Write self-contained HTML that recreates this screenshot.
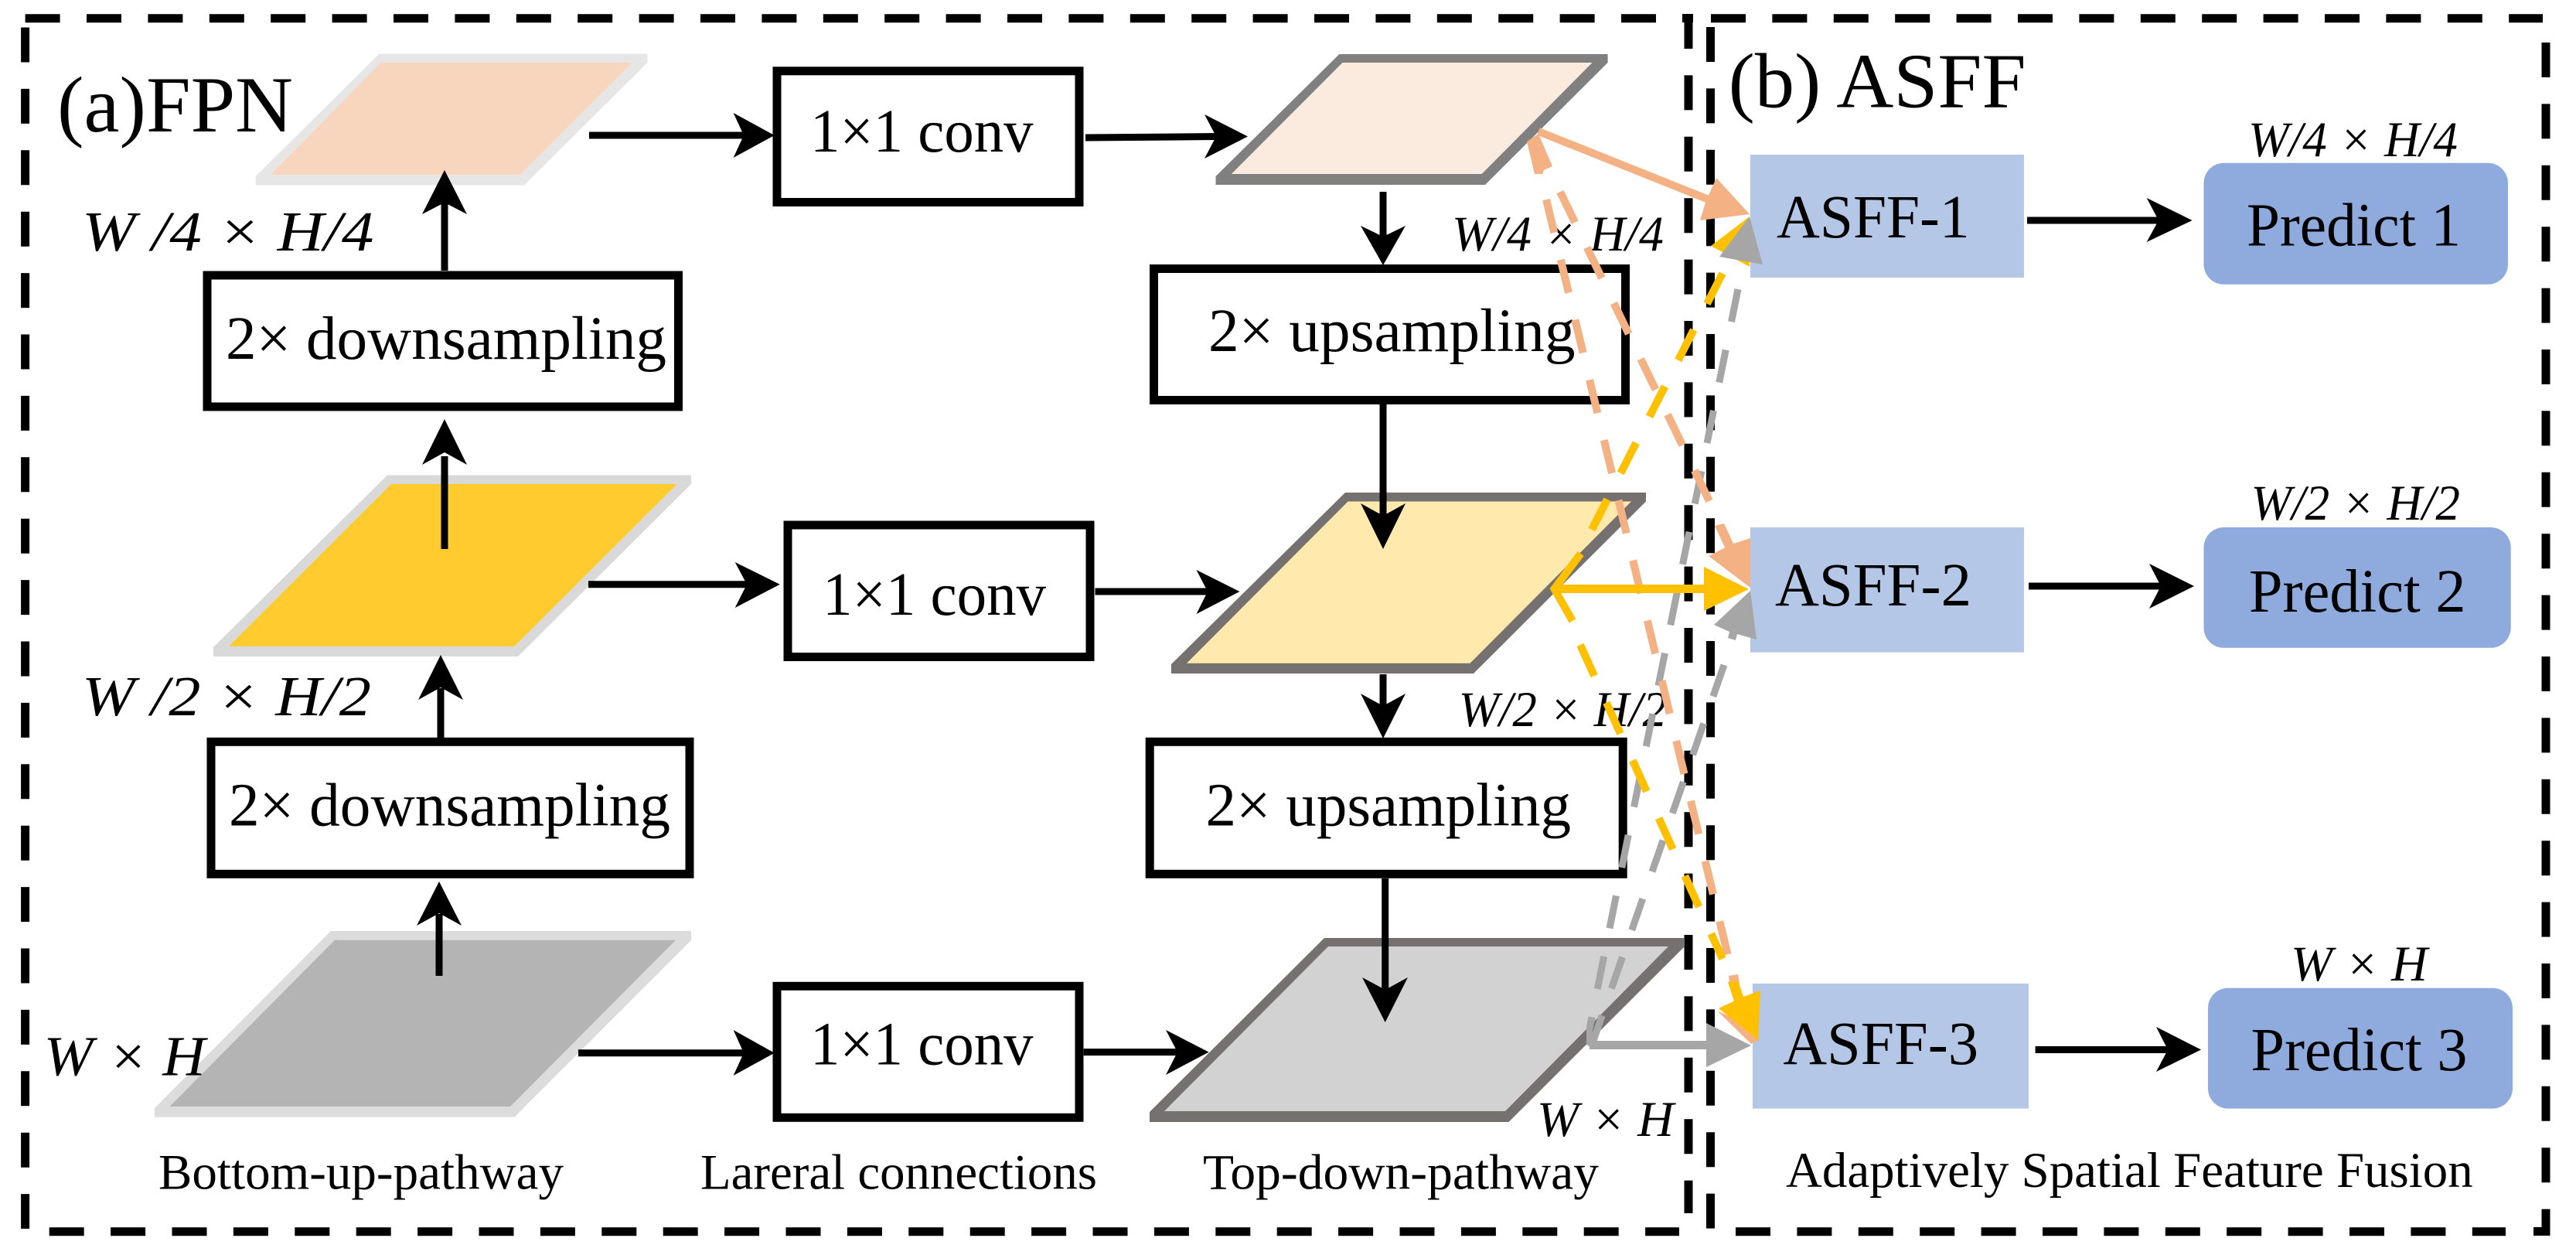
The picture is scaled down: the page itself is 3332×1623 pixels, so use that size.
<!DOCTYPE html>
<html><head><meta charset="utf-8"><style>
html,body{margin:0;padding:0;background:#fff}
svg{display:block}
text{font-family:"Liberation Serif",serif;fill:#000}
.i{font-style:italic}
</style></head><body>
<svg xmlns="http://www.w3.org/2000/svg" width="3332" height="1623" viewBox="0 0 3332 1623">
<rect width="3332" height="1623" fill="#fff"/>
<!-- dashed frames -->
<g stroke="#000" stroke-width="11" fill="none" stroke-dasharray="45 34.4">
<path d="M32.6 23.7H2142"/>
<path d="M32.6 35.5V1589"/>
<path d="M63.7 1592.7H2172"/>
<path d="M2184 18V1569"/>
<path d="M2213 23.7H3289"/>
<path d="M2212.5 35V1590"/>
<path d="M2245 1592.7H3241"/>
<path d="M3293 55V1598"/>
</g>
<rect x="2176" y="18" width="14" height="11"/>
<rect x="3277" y="1587" width="21" height="11"/>
<!-- left parallelograms -->
<polygon points="490.6,69.6 837.5,69.6 837.5,81 678,239.5 330.6,239.5 330.6,228" fill="#e6e6e6"/>
<polygon points="493,81 817.6,81 672.5,226 350,226" fill="#f8d5bd"/>
<polygon points="501,614.5 894,614.5 894,626 670,849 276,849 276,837" fill="#d9d9d9"/>
<polygon points="506,626 875.7,626 665.4,835.7 296,835.7" fill="#ffcb2f"/>
<polygon points="428,1204 894,1204 894,1216 665.4,1444.6 200,1444.6 200,1433" fill="#dcdcdc"/>
<polygon points="433,1215.7 874,1215.7 660,1431 219.5,1431" fill="#b4b4b4"/>
<!-- right parallelograms -->
<polygon points="1732.4,70 2079.6,70 2079.6,81 1921,239 1572.5,239 1572.5,228" fill="#808080"/>
<polygon points="1736.5,81 2059.6,81 1916.6,225 1592.8,225" fill="#fbeade"/>
<polygon points="1740,637 2129,637 2129,648.5 1906,871 1515,871 1515,859" fill="#767171"/>
<polygon points="1743.6,648.5 2110,648.5 1901.5,857.7 1535,857.7" fill="#ffe9ac"/>
<polygon points="1713,1213 2179,1213 2179,1224 1951.5,1451 1487,1451 1487,1438" fill="#767171"/>
<polygon points="1718,1224 2158,1224 1947,1437 1506,1437" fill="#d2d2d2"/>
<!-- boxes -->
<g fill="#fff" stroke="#000" stroke-width="11">
<rect x="268" y="356" width="609.5" height="170"/>
<rect x="273" y="959.3" width="619" height="171"/>
<rect x="1005" y="91.8" width="391" height="169.7"/>
<rect x="1019" y="679" width="391" height="170.5"/>
<rect x="1005" y="1275.3" width="391" height="170"/>
<rect x="1492.5" y="347.5" width="610" height="170"/>
<rect x="1487.2" y="959.3" width="612" height="171"/>
</g>
<g fill="#b4c7e7">
<rect x="2264" y="200" width="354" height="159"/>
<rect x="2264" y="682" width="354" height="161.6"/>
<rect x="2267" y="1272" width="357" height="161.6"/>
</g>
<g fill="#8faadc">
<rect x="2850.5" y="210.8" width="393.5" height="157" rx="26"/>
<rect x="2850.5" y="682" width="397.2" height="155.8" rx="26"/>
<rect x="2856" y="1277.7" width="394" height="155.9" rx="26"/>
</g>
<!-- black arrows -->
<g stroke="#000" fill="none" stroke-width="9">
<path d="M575 350V255M575 710V590M570 955V890M568 1262V1182M1789 248V310M1789 523V672M1789 872V918M1791.7 1136V1285"/>
<path d="M762 175H965M1404 178L1575 176.5M761 755.7H970M1416.5 765H1565M748 1361.7H965M1401.7 1360.6H1525M2622 285H2798M2624 758H2800M2632.6 1357.5H2810"/>
</g>
<g fill="#000">
<polygon points="575,220 604,277 575,262 546,277"/>
<polygon points="575,542 604,601 575,585 546,601"/>
<polygon points="570,847 599,905 570,889 541,905"/>
<polygon points="568,1140 597,1197 568,1181 539,1197"/>
<polygon points="1789,343 1818,292 1789,306 1760,292"/>
<polygon points="1789,710 1818,651 1789,667 1760,651"/>
<polygon points="1789,955 1818,897 1789,913 1760,897"/>
<polygon points="1791.7,1322 1821,1264 1791.7,1280 1762,1264"/>
<polygon points="1001.7,175 948.6,146 962,175 948.6,204"/>
<polygon points="1614,176.5 1558,148 1573,176.5 1558,205"/>
<polygon points="1008.8,755.7 950.7,727 966,755.7 950.7,786"/>
<polygon points="1603.4,765 1547.5,737 1562,765 1547.5,794"/>
<polygon points="1001.7,1361.7 948.6,1332 962,1361.7 948.6,1391"/>
<polygon points="1563.6,1360.6 1508,1332 1523,1360.6 1508,1390"/>
<polygon points="2835.6,285 2776.7,256 2792,285 2776.7,313"/>
<polygon points="2838,758 2780,729 2795,758 2780,787"/>
<polygon points="2847,1357.5 2789,1328 2804,1357.5 2789,1386"/>
</g>
<!-- labels -->
<text x="74" y="170" font-size="103" textLength="305" lengthAdjust="spacingAndGlyphs">(a)FPN</text>
<text x="2235.6" y="138.6" font-size="101" textLength="385" lengthAdjust="spacingAndGlyphs">(b) ASFF</text>
<g font-size="79">
<text x="292" y="464" textLength="570" lengthAdjust="spacingAndGlyphs">2× downsampling</text>
<text x="296" y="1067.7" textLength="571" lengthAdjust="spacingAndGlyphs">2× downsampling</text>
<text x="1563" y="454" textLength="474.5" lengthAdjust="spacingAndGlyphs">2× upsampling</text>
<text x="1559.5" y="1067.7" textLength="472.5" lengthAdjust="spacingAndGlyphs">2× upsampling</text>
<text x="1048" y="196" textLength="288.5" lengthAdjust="spacingAndGlyphs">1×1 conv</text>
<text x="1064" y="795" textLength="289" lengthAdjust="spacingAndGlyphs">1×1 conv</text>
<text x="1048" y="1376.4" textLength="288.5" lengthAdjust="spacingAndGlyphs">1×1 conv</text>
<text x="2298" y="307" textLength="249.6" lengthAdjust="spacingAndGlyphs">ASFF-1</text>
<text x="2296" y="783" textLength="254" lengthAdjust="spacingAndGlyphs">ASFF-2</text>
<text x="2306.5" y="1376" textLength="252.5" lengthAdjust="spacingAndGlyphs">ASFF-3</text>
<text x="2906" y="317.5" textLength="277" lengthAdjust="spacingAndGlyphs">Predict 1</text>
<text x="2909" y="791" textLength="280.5" lengthAdjust="spacingAndGlyphs">Predict 2</text>
<text x="2911.5" y="1384" textLength="280" lengthAdjust="spacingAndGlyphs">Predict 3</text>
</g>
<g font-size="65">
<text x="205" y="1537.5" textLength="524" lengthAdjust="spacingAndGlyphs">Bottom-up-pathway</text>
<text x="906" y="1537.5" textLength="513" lengthAdjust="spacingAndGlyphs">Lareral connections</text>
<text x="1556" y="1537.5" textLength="512" lengthAdjust="spacingAndGlyphs">Top-down-pathway</text>
<text x="2310" y="1535" textLength="888.7" lengthAdjust="spacingAndGlyphs">Adaptively Spatial Feature Fusion</text>
</g>
<g class="i" font-size="73" font-style="italic">
<text x="106" y="324" textLength="377.5" lengthAdjust="spacingAndGlyphs">W /4 × H/4</text>
<text x="106" y="925" textLength="374" lengthAdjust="spacingAndGlyphs">W /2 × H/2</text>
<text x="56.6" y="1390.5" textLength="209" lengthAdjust="spacingAndGlyphs">W × H</text>
</g>
<g class="i" font-size="65" font-style="italic">
<text x="1878" y="324" textLength="274" lengthAdjust="spacingAndGlyphs">W/4 × H/4</text>
<text x="1886.6" y="939" textLength="269.4" lengthAdjust="spacingAndGlyphs">W/2 × H/2</text>
<text x="1988" y="1469" textLength="177" lengthAdjust="spacingAndGlyphs">W × H</text>
<text x="2908" y="202" textLength="271" lengthAdjust="spacingAndGlyphs">W/4 × H/4</text>
<text x="2911.5" y="672" textLength="270.5" lengthAdjust="spacingAndGlyphs">W/2 × H/2</text>
<text x="2963" y="1268" textLength="177" lengthAdjust="spacingAndGlyphs">W × H</text>
</g>
<!-- gray connectors -->
<g stroke="#a6a6a6" fill="none" stroke-width="9">
<path d="M2248 374L2056 1330" stroke-dasharray="43 37"/>
<path d="M2230 860L2056 1360" stroke-dasharray="43 37"/>
<path d="M2056 1351.5H2215" stroke-width="11"/>
<path d="M2056 1351.5V1330" stroke-width="8"/>
</g>
<g fill="#f4b183">
<path d="M1990 170L2210 258" stroke="#f4b183" stroke-width="10" fill="none"/>
<polygon points="2220,230 2263,277 2199,285 2206,262"/>
<polygon points="1975,183 1990,173 2008,215 1997,220 1995,225 1985,225"/>
<polygon points="2264,696 2264,760 2210,719 2242,703"/>
<polygon points="2218,680 2230,677 2242,703 2232,710"/>
<polygon points="2236,1262 2248,1260 2250,1272 2237,1272"/>
<polygon points="2221,1307 2265,1350 2276,1345 2270,1330"/>
</g>
<g stroke="#f4b183" fill="none" stroke-width="10" stroke-dasharray="44 36">
<path d="M2018 248L2224 675"/>
<path d="M2000 258L2236 1240"/>
</g>
<!-- yellow connectors -->
<g stroke="#ffc000" fill="none" stroke-width="10">
<path d="M2010.5 761.5H2210" stroke-width="11"/>
<path d="M2044.6 716L2010.5 761.5L2034 803"/>
<path d="M2059 685L2240 330" stroke-dasharray="44 38"/>
<path d="M2044 834L2228 1240" stroke-dasharray="44 38"/>
</g>
<g fill="#ffc000">
<polygon points="2204,733 2262,762 2204,790"/>
<polygon points="2263,280 2263,345 2213,318"/>
<polygon points="2277,1281 2274,1345 2223,1304 2255,1289"/>
<polygon points="2235,1270 2248,1268 2255,1289 2243,1295"/>
</g>
<g fill="#a6a6a6">
<polygon points="2263,280 2280,342 2224,332"/>
<polygon points="2264,764 2272,827 2247,820 2245,828 2235,825 2237,817 2217,808"/>
<polygon points="2207,1323 2265,1352 2207,1380"/>
</g>
</svg>
</body></html>
